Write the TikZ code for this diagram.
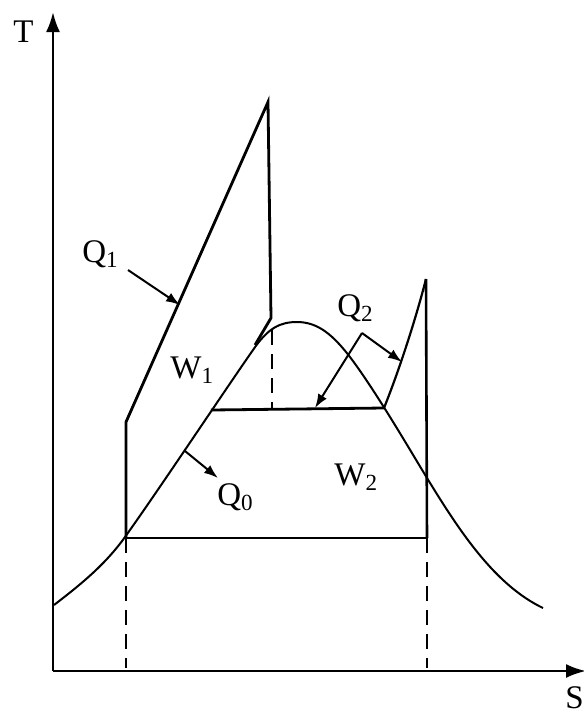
\documentclass[tikz,border=0pt]{standalone}
\usepackage{fontspec}
\setmainfont{Liberation Serif}
\usetikzlibrary{arrows.meta}

\begin{document}
\begin{tikzpicture}[x=0.5pt, y=-0.5pt, >={Latex[length=7pt,width=5pt]},
    spessa/.style={line width=1.4pt, line join=miter},
    curva/.style={line width=1pt},
    tratto/.style={line width=0.9pt, dash pattern=on 7.5pt off 4.5pt},
    freccia/.style={->, line width=1pt},
    etichetta/.style={font=\fontsize{16.5}{19}\selectfont, inner sep=0pt, anchor=base west}]
        \useasboundingbox (0,0) rectangle (584,714);

        % Assi
        \coordinate (O) at (53,671);
        \coordinate (Ttop) at (53,12);
        \coordinate (Send) at (586,671);
        \draw[line width=1.3pt, -{Latex[length=10pt,width=7pt]}] (O) -- (Ttop);
        \draw[line width=1.3pt, -{Latex[length=10pt,width=7pt]}] (O) -- (Send);
        \node[etichetta] (T) at (13,42) {T};
        \node[etichetta] (S) at (565,708) {S};

        % Curva limite
        \draw[curva] (54,605) .. controls (80,585) and (105,565) .. (125,537)
            .. controls (160,488) and (225,390) .. (253,350)
            .. controls (268,328) and (280,322) .. (297,322)
            .. controls (318,322) and (333,335) .. (350,357)
            .. controls (375,390) and (410,450) .. (427,478)
            .. controls (460,532) and (495,585) .. (543,608);

        % Ciclo
        \coordinate (A) at (126,538);
        \coordinate (B) at (126,422);
        \coordinate (C) at (268,102);
        \coordinate (D) at (271,318);
        \coordinate (E) at (255,345);
        \coordinate (F) at (427,538);
        \coordinate (G) at (426,279);
        \coordinate (H) at (384,408);
        \coordinate (I) at (211,410);
        \draw[spessa] (A) -- (B) -- (C) -- (D) -- (E);
        \draw[line width=1.2pt] (A) -- (F);
        \draw[line width=1.3pt] (F) -- (G);
        \draw[line width=1.1pt] (H) .. controls (400,368) and (416,318) .. (G);
        \draw[spessa] (I) -- (H);

        % Linee tratteggiate
        \coordinate (A0) at (126,668);
        \coordinate (F0) at (427,668);
        \coordinate (M1) at (272,330);
        \coordinate (M0) at (272,410);
        \draw[tratto] (A) -- (A0);
        \draw[tratto] (F) -- (F0);
        \draw[tratto] (M1) -- (M0);

        % Calori e lavori
        \node[etichetta] (q1) at (82,262) {Q\textsubscript{1}};
        \coordinate (q1a) at (128,270);
        \coordinate (q1b) at (180,305);
        \draw[freccia] (q1a) -- (q1b);

        \node[etichetta] (q0) at (217,505) {Q\textsubscript{0}};
        \coordinate (q0a) at (185,451);
        \coordinate (q0b) at (218,478);
        \draw[freccia] (q0a) -- (q0b);

        \node[etichetta] (q2) at (337,316) {Q\textsubscript{2}};
        \coordinate (q2a) at (362,333);
        \coordinate (q2b) at (402,362);
        \coordinate (q2c) at (315,408);
        \draw[freccia] (q2a) -- (q2b);
        \draw[freccia] (q2a) -- (q2c);

        \node[etichetta] (w1) at (170,378) {W\textsubscript{1}};
        \node[etichetta] (w2) at (334,485) {W\textsubscript{2}};
    \end{tikzpicture}
\end{document}
